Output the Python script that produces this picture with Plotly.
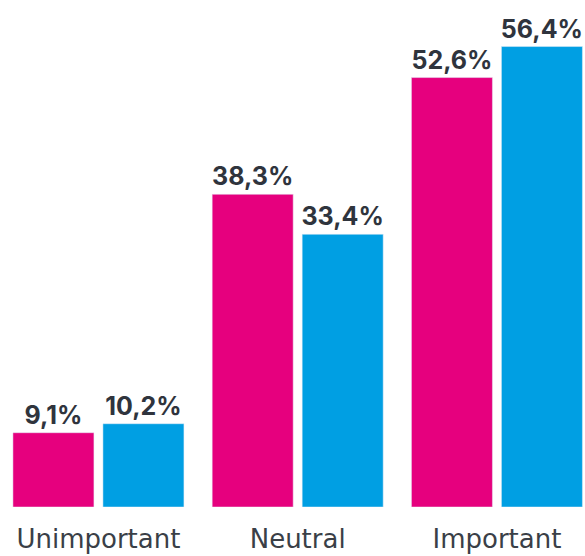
import plotly.graph_objects as go

categories = ["Unimportant", "Neutral", "Important"]
series_a = [9.1, 38.3, 52.6]
series_b = [10.2, 33.4, 56.4]
labels_a = ["9,1%", "38,3%", "52,6%"]
labels_b = ["10,2%", "33,4%", "56,4%"]

label_font = dict(family="Inter", size=25, color="#2f343d", weight=700)

fig = go.Figure()
fig.add_trace(go.Bar(x=categories, y=series_a, text=labels_a, marker_color="#E6007E",
                     textposition="outside", textfont=label_font, constraintext="none",
                     cliponaxis=False, hoverinfo="skip"))
fig.add_trace(go.Bar(x=categories, y=series_b, text=labels_b, marker_color="#009FE3",
                     textposition="outside", textfont=label_font, constraintext="none",
                     cliponaxis=False, hoverinfo="skip"))

fig.update_layout(
    width=585, height=556,
    margin=dict(l=0, r=0, t=0, b=49),
    paper_bgcolor="white", plot_bgcolor="white",
    barmode="group", bargap=0.0966, bargroupgap=0.1,
    showlegend=False,
    xaxis=dict(range=[-0.494, 2.442], showgrid=False, zeroline=False, showline=False,
               ticks="", ticklabelstandoff=14,
               tickfont=dict(family="DejaVu Sans", size=26, color="#3a3f47")),
    yaxis=dict(range=[0, 62.1], visible=False),
)
fig.write_html(
    "out.html",
    config={"displayModeBar": False, "staticPlot": True},
    post_script="document.body.style.margin='0';document.body.style.overflow='hidden';",
)
